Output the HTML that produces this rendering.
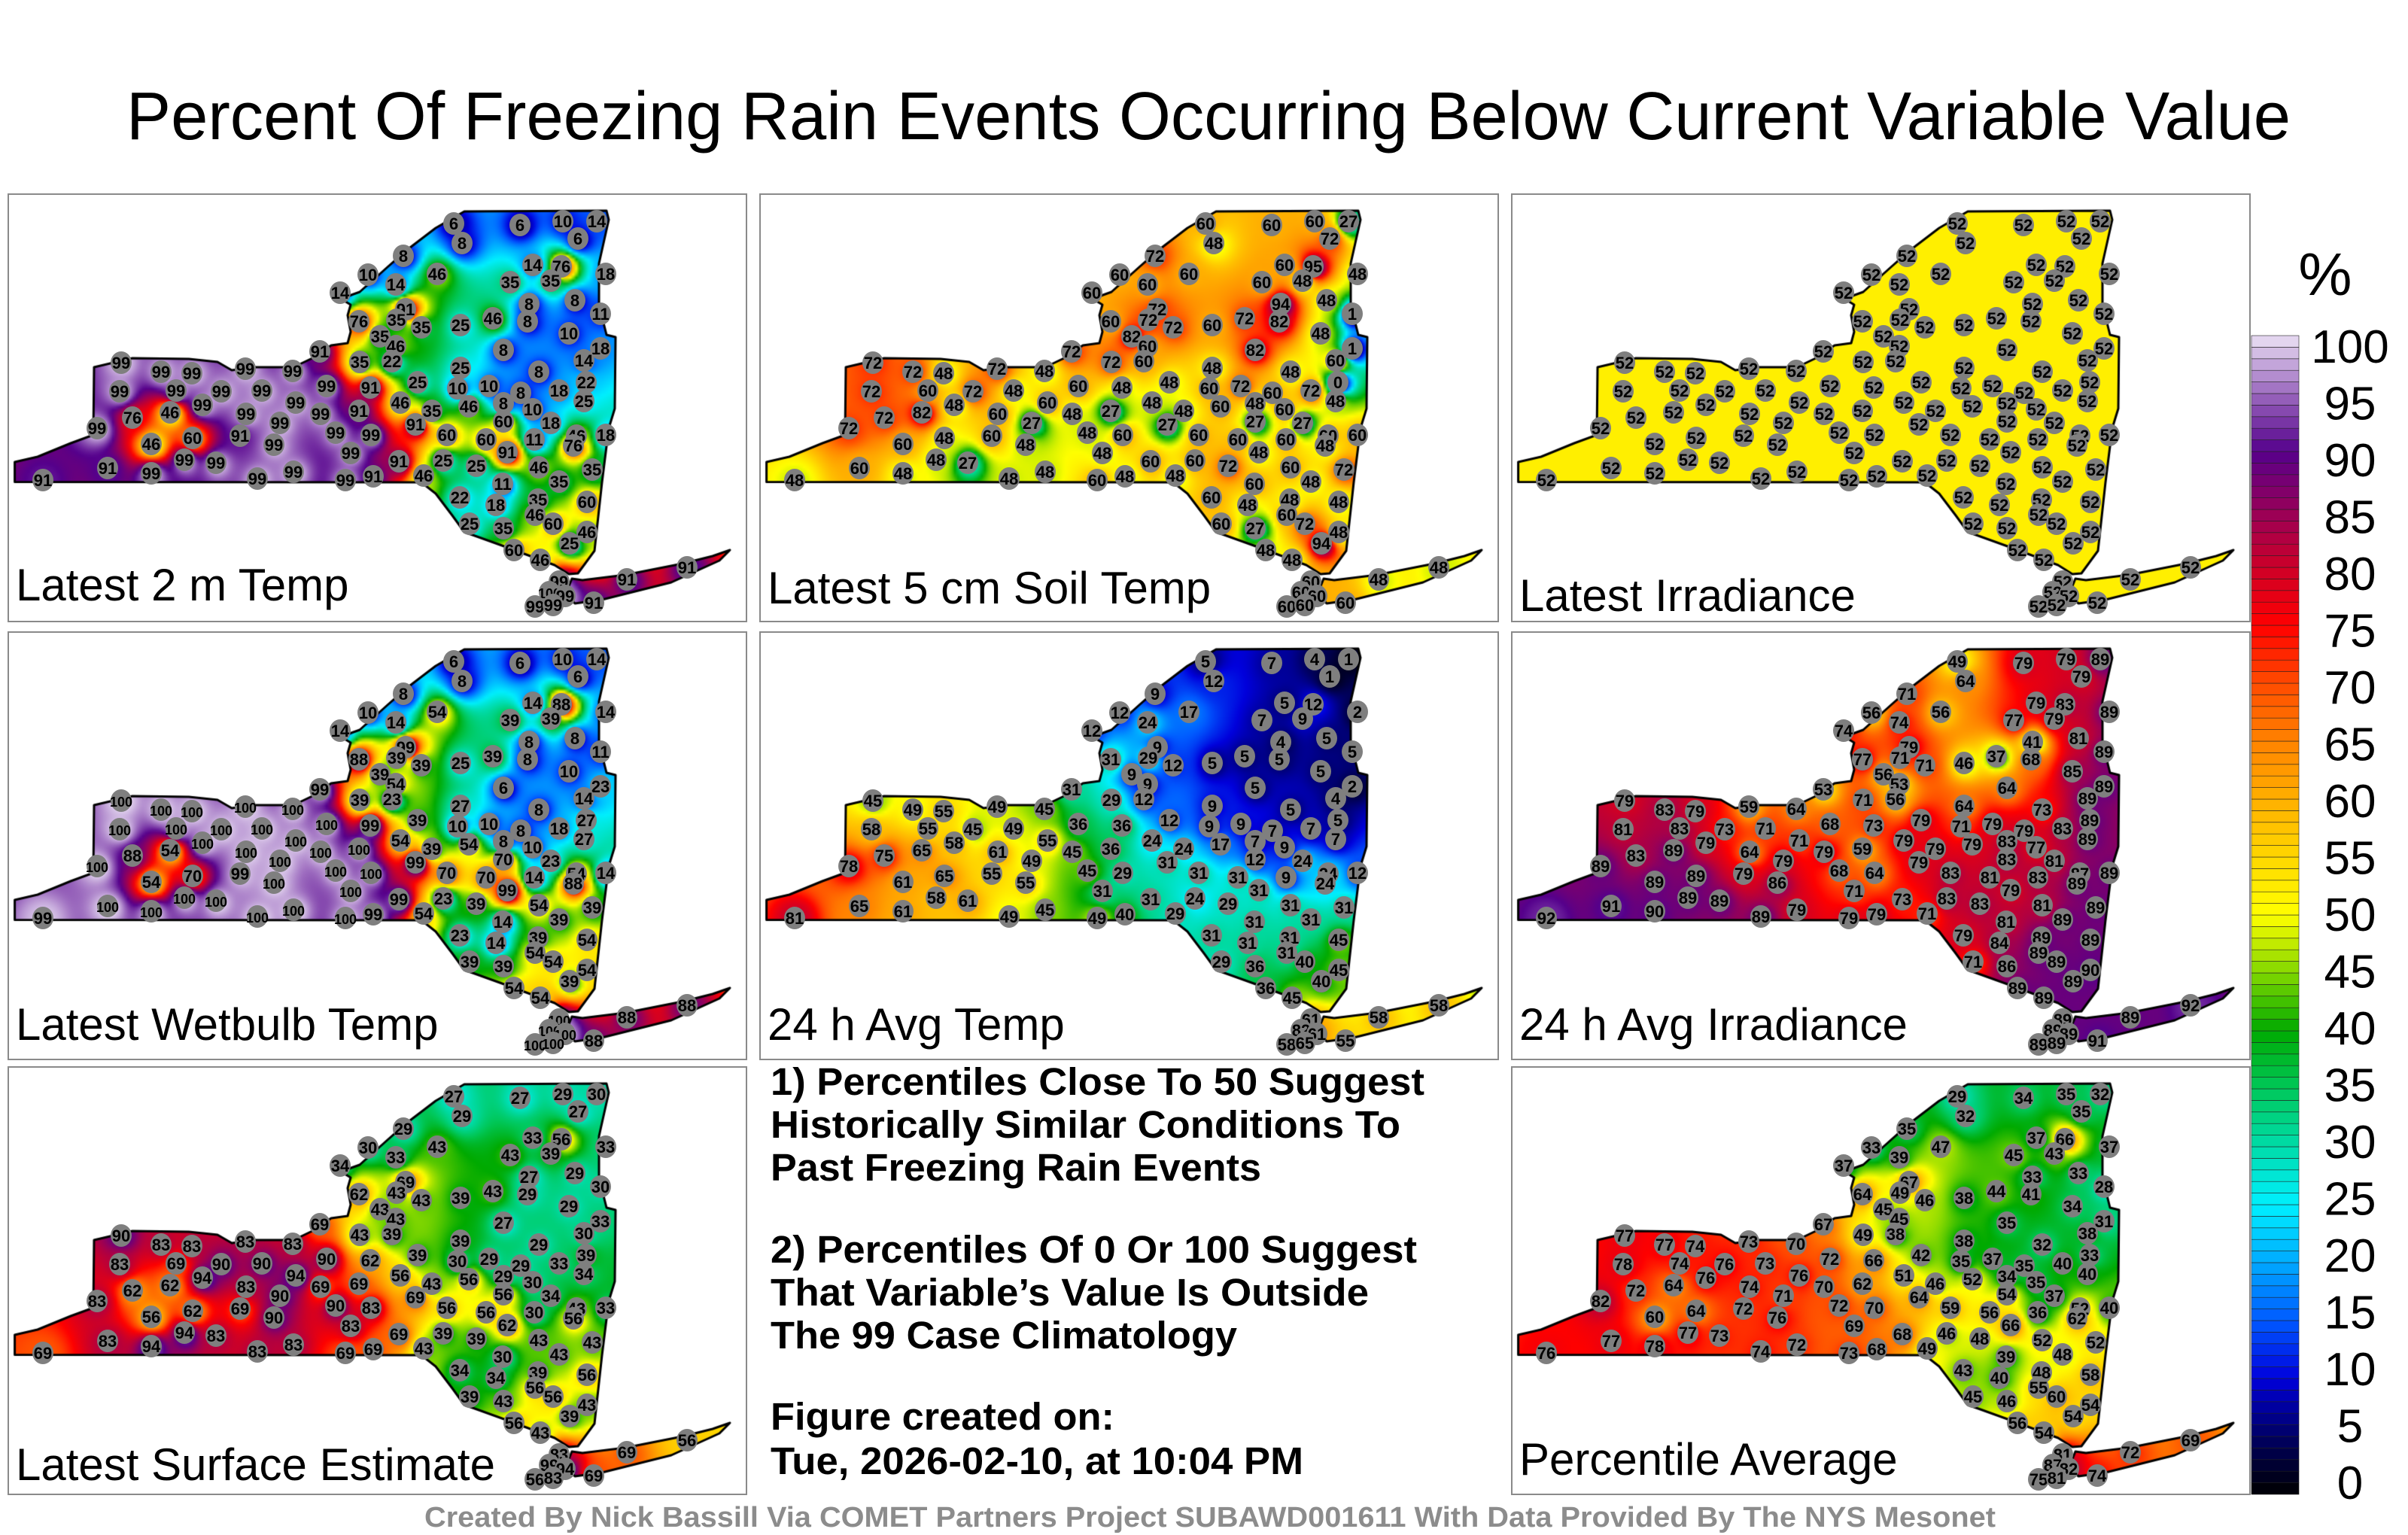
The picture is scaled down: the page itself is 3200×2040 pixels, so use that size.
<!DOCTYPE html>
<html>
<head>
<meta charset="utf-8">
<style>
  html,body{margin:0;padding:0;background:#fff;}
  body{width:3200px;height:2040px;position:relative;overflow:hidden;font-family:"Liberation Sans",Arial,sans-serif;}
  .panel{position:absolute;width:979px;height:566px;border:2px solid #8a8a8a;background:#fff;overflow:hidden;}
  .panel canvas,.panel svg{position:absolute;left:0;top:0;}
  #overlay{position:absolute;left:0;top:0;}
</style>
</head>
<body>
<script>
// ---------- station network (panel-relative positions) ----------
const stationX = [591,602,679,736,781,756,524,477,440,514,
569,696,734,720,666,793,691,752,786,689,
643,600,548,527,515,465,493,514,509,466,
413,744,657,786,764,704,600,543,767,731,
596,638,680,764,657,611,562,520,480,465,
422,657,696,720,793,754,750,698,634,582,
540,481,434,414,454,518,551,577,621,662,
704,775,731,656,599,647,703,699,768,612,
657,723,768,745,671,706,731,718,739,699,
723,777,821,901,45,131,189,117,164,214,
189,244,233,275,147,149,202,243,222,257,
282,314,336,315,307,352,360,377,381,330,
378,447,484];
const stationY = [38,64,40,35,35,58,81,106,130,119,
105,93,95,114,116,105,145,140,158,168,
164,173,176,152,166,168,188,201,221,222,
208,184,206,204,220,235,230,249,249,260,
257,254,263,274,277,281,287,276,256,287,
254,301,285,303,319,320,333,325,325,319,
305,319,316,291,343,354,373,353,360,342,
362,365,381,384,402,412,405,425,408,437,
443,437,448,463,472,485,514,528,533,547,
545,542,511,495,379,363,370,310,296,289,
331,323,352,356,261,223,235,237,260,279,
261,231,260,291,320,332,303,234,276,377,
368,379,374];

// ---------- percentile values per panel ----------
const temp2m = [6,8,6,10,14,6,8,10,14,14,
46,14,76,35,35,18,8,8,11,8,
46,25,35,91,35,76,35,46,22,35,
91,10,8,18,14,8,25,25,22,18,
10,10,8,25,8,46,35,46,91,91,
99,60,10,18,18,46,76,11,60,60,
91,99,99,99,99,91,46,25,25,91,
46,35,35,11,22,18,35,46,60,25,
35,60,46,25,60,46,99,100,99,99,
99,91,91,91,91,91,99,99,76,46,
46,60,99,99,99,99,99,99,99,99,
99,99,99,99,91,99,99,99,99,99,
99,99,91];
const soilTemp = [60,48,60,60,27,72,72,60,60,60,
60,60,95,48,60,48,94,48,1,82,
72,60,72,72,72,60,82,60,60,72,
72,48,82,1,60,48,48,48,0,72,
60,72,60,48,48,60,48,48,48,27,
60,27,60,27,60,60,48,60,60,60,
27,60,48,48,48,60,48,60,72,48,
60,72,48,60,60,48,48,60,48,60,
27,72,48,94,48,48,60,60,60,60,
60,60,48,48,48,60,48,72,72,82,
60,48,48,27,72,72,72,48,60,48,
72,72,48,60,60,48,27,48,60,48,
48,60,48];
const irradiance = [52,52,52,52,52,52,52,52,52,52,
52,52,52,52,52,52,52,52,52,52,
52,52,52,52,52,52,52,52,52,52,
52,52,52,52,52,52,52,52,52,52,
52,52,52,52,52,52,52,52,52,52,
52,52,52,52,52,52,52,52,52,52,
52,52,52,52,52,52,52,52,52,52,
52,52,52,52,52,52,52,52,52,52,
52,52,52,52,52,52,52,52,52,52,
52,52,52,52,52,52,52,52,52,52,
52,52,52,52,52,52,52,52,52,52,
52,52,52,52,52,52,52,52,52,52,
52,52,52];
const wetbulb = [6,8,6,10,14,6,8,10,14,14,
54,14,88,39,39,14,8,8,11,8,
39,25,39,99,39,88,39,54,23,39,
99,10,6,23,14,8,27,39,27,18,
10,10,8,27,8,54,39,54,99,100,
100,70,10,23,14,54,88,14,70,70,
99,100,100,100,100,99,54,23,39,99,
54,39,39,14,23,14,39,54,54,39,
39,54,54,39,54,54,100,100,100,100,
100,88,88,88,99,100,100,100,88,54,
54,70,100,100,100,100,100,100,100,100,
100,100,100,100,99,100,100,100,100,100,
100,100,99];
const avgTemp = [5,12,7,4,1,1,9,12,12,24,
17,5,12,9,7,2,4,5,5,5,
5,5,12,9,29,31,9,9,12,29,
31,5,5,2,4,5,9,12,5,7,
9,9,7,7,7,17,24,24,36,36,
36,12,9,24,12,24,24,9,31,31,
31,29,45,45,31,31,29,24,29,31,
31,31,31,31,31,31,31,31,45,29,
36,40,45,40,36,45,61,82,61,58,
65,55,58,58,81,65,61,78,75,65,
61,65,58,61,58,45,49,55,55,58,
45,49,49,61,55,55,49,45,55,49,
45,49,40];
const avgIrr = [49,64,79,79,89,79,71,56,74,74,
56,79,83,79,77,89,41,81,89,68,
37,46,71,79,71,77,56,53,56,71,
53,85,64,89,89,73,64,79,89,83,
71,79,79,89,83,79,79,79,73,59,
68,83,77,81,89,87,89,83,81,83,
79,64,68,79,71,73,71,83,83,79,
81,89,89,81,79,84,89,89,89,71,
86,89,90,89,89,89,89,89,89,89,
89,91,89,92,92,91,90,89,83,89,
89,89,89,89,81,79,83,79,83,79,
73,59,71,64,79,86,79,64,71,89,
79,79,79];
const surfaceEst = [27,29,27,29,30,27,29,30,34,33,
43,33,56,39,43,33,27,29,30,29,
43,39,43,69,43,62,43,43,39,43,
69,29,27,33,30,29,39,39,39,33,
30,29,29,34,29,56,43,56,62,69,
90,56,30,34,33,43,56,30,56,56,
69,83,90,69,83,69,43,39,39,62,
43,43,43,30,34,34,39,56,56,39,
43,56,43,39,56,43,83,99,94,56,
83,69,69,56,69,83,94,83,62,62,
56,62,94,83,83,90,83,83,69,94,
90,83,90,83,69,90,90,83,94,83,
83,69,69];
const pctAverage = [29,32,34,35,32,35,35,33,37,39,
47,37,66,43,45,37,33,33,28,41,
44,38,46,67,49,64,45,45,38,49,
67,34,35,31,38,32,38,42,33,40,
35,37,35,40,34,52,46,51,66,62,
72,54,35,37,40,52,62,36,56,59,
64,70,72,70,69,68,49,46,48,66,
52,52,48,39,43,40,48,55,58,45,
46,60,54,54,56,54,81,87,82,75,
81,74,72,69,76,77,78,82,72,64,
60,64,77,73,78,77,77,74,74,76,
76,73,73,74,72,76,71,70,76,74,
72,73,68];

const panelTitles = ["Latest 2 m Temp","Latest 5 cm Soil Temp","Latest Irradiance","Latest Wetbulb Temp","24 h Avg Temp","24 h Avg Irradiance","Latest Surface Estimate","Percentile Average"];
const colorbarTicks = [0,5,10,15,20,25,30,35,40,45,50,55,60,65,70,75,80,85,90,95,100];
</script>

<svg id="overlay" width="3200" height="2040" viewBox="0 0 3200 2040" xmlns="http://www.w3.org/2000/svg">
  <text x="168" y="185" font-family="Liberation Sans, sans-serif" font-size="90" textLength="2876" lengthAdjust="spacingAndGlyphs" fill="#000">Percent Of Freezing Rain Events Occurring Below Current Variable Value</text>
  <g font-family="Liberation Sans, sans-serif" font-weight="bold" font-size="51" fill="#000">
    <text x="1024" y="1455" textLength="869" lengthAdjust="spacingAndGlyphs">1) Percentiles Close To 50 Suggest</text>
    <text x="1024" y="1512" textLength="837" lengthAdjust="spacingAndGlyphs">Historically Similar Conditions To</text>
    <text x="1024" y="1569" textLength="652" lengthAdjust="spacingAndGlyphs">Past Freezing Rain Events</text>
    <text x="1024" y="1678" textLength="859" lengthAdjust="spacingAndGlyphs">2) Percentiles Of 0 Or 100 Suggest</text>
    <text x="1024" y="1735" textLength="795" lengthAdjust="spacingAndGlyphs">That Variable’s Value Is Outside</text>
    <text x="1024" y="1792" textLength="620" lengthAdjust="spacingAndGlyphs">The 99 Case Climatology</text>
    <text x="1024" y="1900" textLength="457" lengthAdjust="spacingAndGlyphs">Figure created on:</text>
    <text x="1024" y="1959" textLength="708" lengthAdjust="spacingAndGlyphs">Tue, 2026-02-10, at 10:04 PM</text>
  </g>
  <text x="564" y="2029" font-family="Liberation Sans, sans-serif" font-weight="bold" font-size="38" fill="#8c8c8c" textLength="2088" lengthAdjust="spacingAndGlyphs">Created By Nick Bassill Via COMET Partners Project SUBAWD001611 With Data Provided By The NYS Mesonet</text>
  <text x="3090" y="392" text-anchor="middle" font-family="Liberation Sans, sans-serif" font-size="80" fill="#000">%</text>
  <g id="colorbar"></g>
</svg>

<script>
const NS = "http://www.w3.org/2000/svg";
const stops = [[0,0,0],[0,0,100],[0,0,220],[0,90,255],[0,170,255],[0,240,255],[0,220,170],[0,200,90],[0,170,0],[130,215,0],[255,255,0],[255,215,0],[255,175,0],[255,130,0],[255,75,0],[255,0,0],[205,0,40],[150,0,90],[85,0,140],[155,105,190],[235,225,245]];
function cmap(v){
  v = Math.max(0, Math.min(100, v));
  const t = v/5, i = Math.min(19, Math.floor(t)), f = t - i;
  const a = stops[i], b = stops[i+1];
  return [a[0]+(b[0]-a[0])*f, a[1]+(b[1]-a[1])*f, a[2]+(b[2]-a[2])*f];
}
function rgb(c){return "rgb("+Math.round(c[0])+","+Math.round(c[1])+","+Math.round(c[2])+")";}

// colorbar
const cb = document.getElementById("colorbar");
const cbX = 2992, cbW = 63, cbTop = 446, cbBot = 1986;
const yOf = v => cbBot - (v/100)*(cbBot-cbTop);
for (let v = 0; v < 100; v++) {
  const r = document.createElementNS(NS, "rect");
  
  
  r.setAttribute("x", cbX); r.setAttribute("y", yOf(v+1)); r.setAttribute("width", cbW);
  r.setAttribute("height", yOf(v)-yOf(v+1)); r.setAttribute("fill", rgb(cmap(v+0.5)));
  r.setAttribute("stroke", "#222"); r.setAttribute("stroke-width", "0.6");
  cb.appendChild(r);
}
colorbarTicks.forEach(t => {
  const tx = document.createElementNS(NS, "text");
  
  
  tx.setAttribute("x", 3123); tx.setAttribute("y", 460 + (100-t)*15.1 + 22);
  tx.setAttribute("text-anchor", "middle"); tx.setAttribute("font-family", "Liberation Sans, sans-serif");
  tx.setAttribute("font-size", "62"); tx.textContent = String(t);
  cb.appendChild(tx);
});

// NY outline (panel coordinates)
const nyPath = "M7.6,381.6 L7.6,355 L38,348 L82,330 L112,319 L113,229 L164,217 L239,218 L277,222 L296,233 L328,229 L378,229 L403,217 L428,200 L450,197 L454,182 L450,160 L454,146 L441,138 L466,129 L504,95 L529,73 L567,44 L605,22 L794,21 L797,33 L784,91 L784,146 L794,186 L806,189 L805,284 L797,310 L788,382 L778,473 L756,503 L744,504 L725,492 L655,466 L605,448 L589,426 L567,397 L548,382 Z M748,510 L762,512 L819,505 L895,490 L935,480 L958,472 L944,486 L880,515 L788,538 L752,543 L740,530 Z M702,540 L712,530 L730,526 L740,540 L724,548 Z";

const panelPos = [[10,257],[1009,257],[2008,257],[10,839],[1009,839],[2008,839],[10,1417],[2008,1417]];
const panelData = [temp2m, soilTemp, irradiance, wetbulb, avgTemp, avgIrr, surfaceEst, pctAverage];
const panelNames = ["panel-latest-2m-temp","panel-latest-soil-temp","panel-latest-irradiance","panel-latest-wetbulb","panel-24h-avg-temp","panel-24h-avg-irradiance","panel-latest-surface-estimate","panel-percentile-average"];
const titleY = [539,543,553,541,541,541,548,541];
const W = 979, H = 566, STEP = 4;

panelData.forEach((vals, p) => {
  const div = document.createElement("div");
  div.className = "panel";
  div.style.left = panelPos[p][0] + "px"; div.style.top = panelPos[p][1] + "px";
  
  
  document.body.appendChild(div);

  const gw = Math.ceil(W/STEP)+1, gh = Math.ceil(H/STEP)+1;
  const small = document.createElement("canvas"); small.width = gw; small.height = gh;
  const sctx = small.getContext("2d");
  const img = sctx.createImageData(gw, gh);
  for (let j = 0; j < gh; j++) for (let i = 0; i < gw; i++) {
    const x = i*STEP, y = j*STEP;
    let sw = 0, sv = 0, hit = -1;
    for (let k = 0; k < vals.length; k++) {
      const dx = x - stationX[k], dy = y - stationY[k];
      const d2 = dx*dx + dy*dy;
      if (d2 < 1) { hit = k; break; }
      const w = 1 / Math.pow(d2, 1.3);
      sw += w; sv += w * vals[k];
    }
    const v = hit >= 0 ? vals[hit] : sv/sw;
    const c = cmap(v), o = (j*gw+i)*4;
    img.data[o] = c[0]; img.data[o+1] = c[1]; img.data[o+2] = c[2]; img.data[o+3] = 255;
  }
  sctx.putImageData(img, 0, 0);

  const cv = document.createElement("canvas"); cv.width = W; cv.height = H;
  
  
  div.appendChild(cv);
  const ctx = cv.getContext("2d");
  const path = new Path2D(nyPath);
  ctx.save(); ctx.clip(path);
  ctx.imageSmoothingEnabled = true;
  ctx.drawImage(small, 0, 0, gw*STEP, gh*STEP);
  ctx.restore();
  ctx.lineWidth = 3; ctx.strokeStyle = "#000"; ctx.lineJoin = "round"; ctx.stroke(path);

  const svg = document.createElementNS(NS, "svg");
  svg.setAttribute("width", W); svg.setAttribute("height", H);
  
  
  div.appendChild(svg);
  vals.forEach((v, k) => {
    const g = document.createElementNS(NS, "g");
    
    
    const e = document.createElementNS(NS, "ellipse");
    e.setAttribute("cx", stationX[k]); e.setAttribute("cy", stationY[k]);
    e.setAttribute("rx", 14); e.setAttribute("ry", 15); e.setAttribute("fill", "#7f7f7f");
    const t = document.createElementNS(NS, "text");
    t.setAttribute("x", stationX[k]); t.setAttribute("y", stationY[k] + 8);
    t.setAttribute("text-anchor", "middle"); t.setAttribute("font-family", "Liberation Sans, sans-serif");
    t.setAttribute("font-weight", "bold"); t.setAttribute("font-size", v >= 100 ? "18" : "22");
    t.setAttribute("fill", "#000"); t.textContent = String(v);
    g.appendChild(e); g.appendChild(t); svg.appendChild(g);
  });
  const tt = document.createElementNS(NS, "text");
  
  
  tt.setAttribute("x", 9); tt.setAttribute("y", titleY[p]);
  tt.setAttribute("font-family", "Liberation Sans, sans-serif"); tt.setAttribute("font-size", "60");
  tt.setAttribute("fill", "#000"); tt.textContent = panelTitles[p];
  svg.appendChild(tt);
});
</script>
</body>
</html>
